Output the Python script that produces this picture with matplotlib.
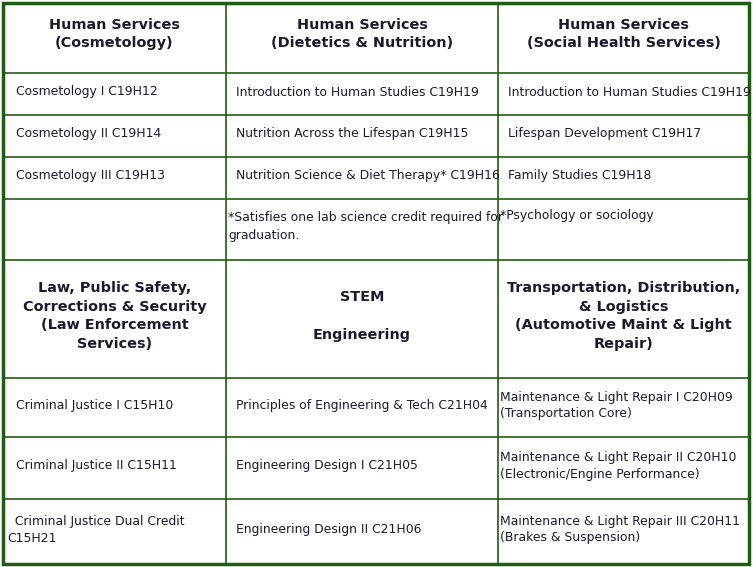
import matplotlib
matplotlib.use("Agg")
import matplotlib.pyplot as plt

W, H = 753, 567
col_edges = [3, 226, 498, 749]
row_edges = [3, 73, 115, 157, 199, 260, 378, 437, 499, 564]

headers_top = ["Human Services\n(Cosmetology)",
               "Human Services\n(Dietetics & Nutrition)",
               "Human Services\n(Social Health Services)"]
rows_top = [
    ["Cosmetology I C19H12", "Introduction to Human Studies C19H19", "Introduction to Human Studies C19H19"],
    ["Cosmetology II C19H14", "Nutrition Across the Lifespan C19H15", "Lifespan Development C19H17"],
    ["Cosmetology III C19H13", "Nutrition Science & Diet Therapy* C19H16", "Family Studies C19H18"],
]
notes = ["", "*Satisfies one lab science credit required for\ngraduation.", "*Psychology or sociology"]
headers_bot = ["Law, Public Safety,\nCorrections & Security\n(Law Enforcement\nServices)",
               "STEM\n\nEngineering",
               "Transportation, Distribution,\n& Logistics\n(Automotive Maint & Light\nRepair)"]
rows_bot = [
    ["Criminal Justice I C15H10", "Principles of Engineering & Tech C21H04", "Maintenance & Light Repair I C20H09\n(Transportation Core)"],
    ["Criminal Justice II C15H11", "Engineering Design I C21H05", "Maintenance & Light Repair II C20H10\n(Electronic/Engine Performance)"],
    ["  Criminal Justice Dual Credit\nC15H21", "Engineering Design II C21H06", "Maintenance & Light Repair III C20H11\n(Brakes & Suspension)"],
]

fig = plt.figure(figsize=(W/100, H/100), dpi=100)
ax = fig.add_axes([0, 0, 1, 1])
ax.set_xlim(0, W); ax.set_ylim(H, 0); ax.axis("off")
green = "#1e5e12"
for y in row_edges[1:-1]:
    ax.plot([col_edges[0], col_edges[-1]], [y, y], color=green, lw=1.2)
for x in col_edges[1:-1]:
    ax.plot([x, x], [row_edges[0], row_edges[-1]], color=green, lw=1.2)
ax.add_patch(plt.Rectangle((col_edges[0], row_edges[0]), col_edges[-1]-col_edges[0],
                           row_edges[-1]-row_edges[0], fill=False, ec=green, lw=2.5))

hdr = dict(fontsize=10.4, fontweight="bold", color="#1a1a2e", ha="center", va="center", linespacing=1.45)
body = dict(fontsize=8.9, color="#1a1a2e", va="center", linespacing=1.4)

def cx(c): return (col_edges[c] + col_edges[c+1]) / 2
def cy(r): return (row_edges[r] + row_edges[r+1]) / 2

for c, t in enumerate(headers_top):
    ax.text(cx(c), cy(0) - 4, t, **hdr)
left = [16, 236, 508]
for r, row in enumerate(rows_top):
    for c, t in enumerate(row):
        ax.text(left[c], cy(r+1) - 2, t, ha="left", **body)
ax.text(228, cy(4) - 3, notes[1], ha="left", **body)
ax.text(500, 216, notes[2], ha="left", **body)
for c, t in enumerate(headers_bot):
    ax.text(cx(c), cy(5) - 3, t, **hdr)
left2 = [16, 236, 500]
for r, row in enumerate(rows_bot):
    for c, t in enumerate(row):
        x = 7 if (r == 2 and c == 0) else left2[c]
        ax.text(x, cy(r+6) - 2, t, ha="left", **body)

fig.savefig("out.png", dpi=100)
